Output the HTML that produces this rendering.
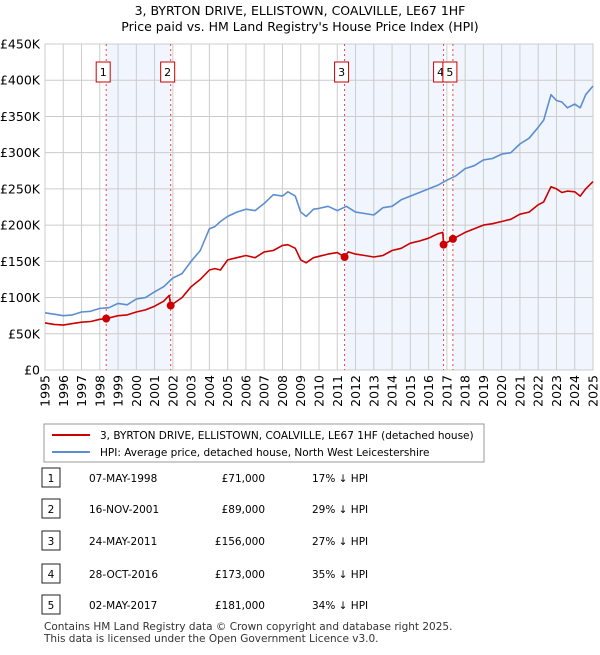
<!DOCTYPE html>
<html><head><meta charset="utf-8"><style>
body{margin:0;background:#fff;font-family:"Liberation Sans","DejaVu Sans",sans-serif;}
svg text{font-family:"DejaVu Sans","Liberation Sans",sans-serif;}
</style></head><body>
<svg id="c" width="600" height="650" xmlns="http://www.w3.org/2000/svg">
<text x="300" y="15" text-anchor="middle" font-size="12.5">3, BYRTON DRIVE, ELLISTOWN, COALVILLE, LE67 1HF</text>
<text x="300" y="31" text-anchor="middle" font-size="12.5">Price paid vs. HM Land Registry's House Price Index (HPI)</text>
<g id="plot"></g>
<g>
<rect x="44" y="424" width="440" height="38" fill="#fff" stroke="#999"/>
<line x1="52" y1="435" x2="90" y2="435" stroke="#cc0000" stroke-width="2"/>
<text x="100" y="439" font-size="10.5">3, BYRTON DRIVE, ELLISTOWN, COALVILLE, LE67 1HF (detached house)</text>
<line x1="52" y1="452" x2="90" y2="452" stroke="#5b8fd0" stroke-width="2"/>
<text x="100" y="456" font-size="10.5">HPI: Average price, detached house, North West Leicestershire</text>
</g>
<g id="tbl" font-size="10.5"></g>
<text x="44" y="630" font-size="10.5" fill="#333">Contains HM Land Registry data © Crown copyright and database right 2025.</text>
<text x="44" y="642" font-size="10.5" fill="#333">This data is licensed under the Open Government Licence v3.0.</text>
</svg>
<script>
const hpiYears=[1995,1995.5,1996,1996.5,1997,1997.5,1998,1998.5,1999,1999.5,2000,2000.5,2001,2001.5,2002,2002.5,2003,2003.5,2004,2004.3,2004.6,2005,2005.5,2006,2006.5,2007,2007.5,2008,2008.3,2008.7,2009,2009.3,2009.7,2010,2010.5,2011,2011.5,2012,2012.5,2013,2013.5,2014,2014.5,2015,2015.5,2016,2016.5,2017,2017.5,2018,2018.5,2019,2019.5,2020,2020.5,2021,2021.5,2022,2022.3,2022.7,2023,2023.3,2023.6,2024,2024.3,2024.6,2025];
const hpiValues=[79,77,75,76,80,81,85,86,92,90,98,100,108,115,127,133,150,165,195,198,205,212,218,222,220,230,242,240,246,240,218,212,222,223,226,220,226,218,216,214,224,226,235,240,245,250,255,262,268,278,282,290,292,298,300,312,320,335,345,380,372,370,362,367,362,380,392];
const ppYears=[1995,1995.5,1996,1996.5,1997,1997.5,1998,1998.35,1999,1999.5,2000,2000.5,2001,2001.5,2001.8,2001.88,2002.5,2003,2003.5,2004,2004.3,2004.6,2005,2005.5,2006,2006.5,2007,2007.5,2008,2008.3,2008.7,2009,2009.3,2009.7,2010,2010.5,2011,2011.4,2011.6,2012,2012.5,2013,2013.5,2014,2014.5,2015,2015.5,2016,2016.5,2016.78,2016.82,2017.33,2018,2018.5,2019,2019.5,2020,2020.5,2021,2021.5,2022,2022.3,2022.7,2023,2023.3,2023.6,2024,2024.3,2024.6,2025];
const ppValues=[65,63,62,64,66,67,70,71,75,76,80,83,88,95,103,89,100,115,125,138,140,138,152,155,158,155,163,165,172,173,168,152,148,155,157,160,162,156,163,160,158,156,158,165,168,175,178,182,188,190,173,181,190,195,200,202,205,208,215,218,228,232,253,250,245,247,246,240,250,260];
const sales=[{n:"1",x:1998.35,v:71,d:"07-MAY-1998",p:"£71,000",h:"17% ↓ HPI"},{n:"2",x:2001.88,v:89,d:"16-NOV-2001",p:"£89,000",h:"29% ↓ HPI"},{n:"3",x:2011.4,v:156,d:"24-MAY-2011",p:"£156,000",h:"27% ↓ HPI"},{n:"4",x:2016.82,v:173,d:"28-OCT-2016",p:"£173,000",h:"35% ↓ HPI"},{n:"5",x:2017.33,v:181,d:"02-MAY-2017",p:"£181,000",h:"34% ↓ HPI"}];
const yTicks=[0,50,100,150,200,250,300,350,400,450];
const yTickLabels=["£0","£50K","£100K","£150K","£200K","£250K","£300K","£350K","£400K","£450K"];
const xTicks=[1995,1996,1997,1998,1999,2000,2001,2002,2003,2004,2005,2006,2007,2008,2009,2010,2011,2012,2013,2014,2015,2016,2017,2018,2019,2020,2021,2022,2023,2024,2025];

const NS="http://www.w3.org/2000/svg";
const L=45,R=593,T=44,B=370;
const X=y=>L+(y-1995)/30*(R-L);
const Y=v=>B-v/450*(B-T);
function mk(p,tag,a){const e=document.createElementNS(NS,tag);for(const k in a)e.setAttribute(k,a[k]);p.appendChild(e);return e;}
const g=document.getElementById('plot');
const shades=[[sales[0].x,sales[1].x],[sales[2].x,sales[3].x],[sales[4].x,2025]];
shades.forEach(s=>{const r=mk(g,'rect',{x:X(s[0]),y:T,width:X(s[1])-X(s[0]),height:B-T,fill:'#eef3fc',opacity:0.8});

});
yTicks.forEach((t,i)=>{const l=mk(g,'line',{x1:L,x2:R,y1:Y(t),y2:Y(t),stroke:'#cccccc'});


const tx=mk(g,'text',{x:40,y:Y(t)+4.5,'text-anchor':'end','font-size':12.5});tx.textContent=yTickLabels[i];

});
xTicks.forEach(t=>{const l=mk(g,'line',{x1:X(t),x2:X(t),y1:T,y2:B,stroke:'#cccccc'});


const tx=mk(g,'text',{x:0,y:0,'text-anchor':'end','font-size':12.5,transform:`translate(${X(t)+4.5},375) rotate(-90)`});tx.textContent=t;

});
mk(g,'rect',{x:L,y:T,width:R-L,height:B-T,fill:'none',stroke:'#cccccc'});
sales.forEach(s=>{const l=mk(g,'line',{x1:X(s.x),x2:X(s.x),y1:T,y2:B,stroke:'#ee4444','stroke-dasharray':'2,3'});

});
function path(xs,vs,col,name){const d=xs.map((x,i)=>(i?'L':'M')+X(x).toFixed(1)+','+Y(vs[i]).toFixed(1)).join('');
const p=mk(g,'path',{d:d,fill:'none',stroke:col,'stroke-width':1.6,'stroke-linejoin':'round'});

}
path(hpiYears,hpiValues,'#5b8fd0','hpi-line');
path(ppYears,ppValues,'#cc0000','price-paid-line');
sales.forEach(s=>{const c=mk(g,'circle',{cx:X(s.x),cy:Y(s.v),r:4,fill:'#cc0000'});


const bx=X(s.x)-10;
const r=mk(g,'rect',{x:bx,y:62,width:14,height:20,fill:'#fff',stroke:'#cc0000'});


const t=mk(g,'text',{x:bx+7,y:76,'text-anchor':'middle','font-size':11});t.textContent=s.n;

});
const tb=document.getElementById('tbl');
sales.forEach((s,i)=>{const y=[478,509,541,574,605][i]+4;
const r=mk(tb,'rect',{x:42,y:y-14,width:18,height:19,fill:'#fff',stroke:'#222'});


const a=mk(tb,'text',{x:51,y:y,'text-anchor':'middle'});a.textContent=s.n;
const b=mk(tb,'text',{x:89,y:y});b.textContent=s.d;
const c=mk(tb,'text',{x:265,y:y,'text-anchor':'end'});c.textContent=s.p;
const d=mk(tb,'text',{x:312,y:y});d.textContent=s.h;
[a,b,c,d].forEach((e,j)=>{
});});
</script>
</body></html>
